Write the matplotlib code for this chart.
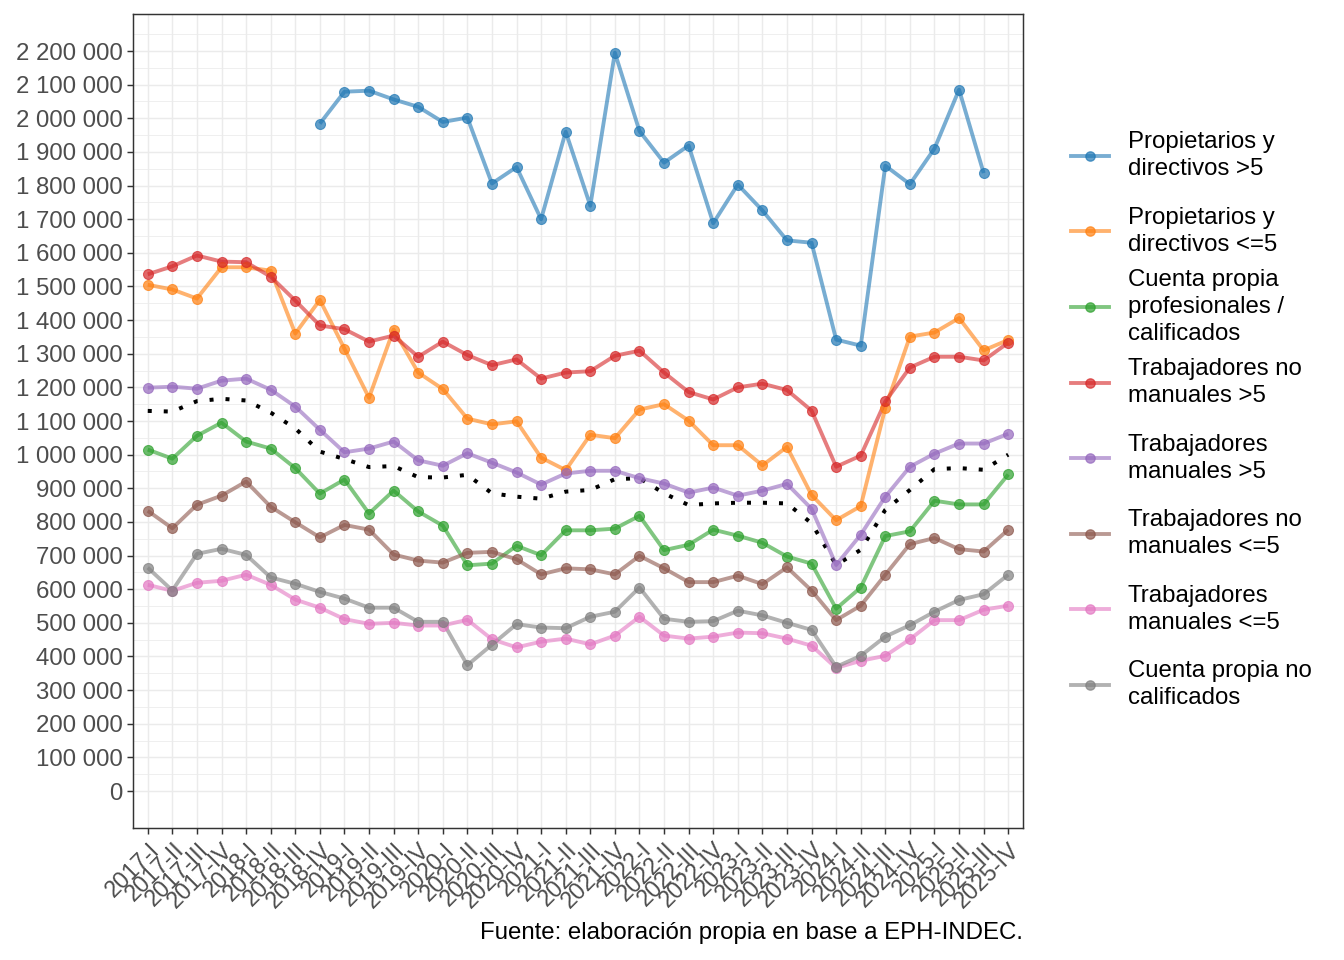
import numpy as np
import matplotlib
matplotlib.use("Agg")
import matplotlib.pyplot as plt
from matplotlib.lines import Line2D

plt.rcParams['font.family'] = ['Liberation Sans', 'DejaVu Sans']

# trimestres
periodos = [f"{a}-{t}" for a in range(2017, 2026) for t in ["I", "II", "III", "IV"]]

nan = np.nan
prop_gr = [nan, nan, nan, nan, nan, nan, nan, 1984000, 2079000, 2082000, 2056000, 2034000,
           1989000, 2002000, 1806000, 1855000, 1700000, 1960000, 1740000, 2195000,
           1962000, 1868000, 1919000, 1688000, 1803000, 1726000, 1637000, 1630000,
           1342000, 1324000, 1859000, 1804000, 1910000, 2085000, 1837000, nan]
prop_ch = [1505000, 1491000, 1464000, 1557000, 1557000, 1547000, 1360000, 1460000,
           1315000, 1169000, 1372000, 1244000, 1195000, 1107000, 1090000, 1099000,
           991000, 954000, 1059000, 1049000, 1134000, 1150000, 1101000, 1028000,
           1028000, 968000, 1023000, 880000, 805000, 847000, 1139000, 1351000,
           1363000, 1406000, 1310000, 1341000]
cp_prof = [1015000, 988000, 1056000, 1095000, 1039000, 1018000, 960000, 884000,
           926000, 825000, 893000, 831000, 789000, 671000, 676000, 729000,
           701000, 775000, 775000, 780000, 818000, 716000, 732000, 777000,
           759000, 738000, 697000, 676000, 542000, 605000, 758000, 772000,
           863000, 852000, 852000, 941000]
nm_gr = [1536000, 1560000, 1592000, 1574000, 1572000, 1529000, 1458000, 1384000,
         1373000, 1336000, 1354000, 1291000, 1336000, 1296000, 1266000, 1283000,
         1226000, 1244000, 1248000, 1294000, 1309000, 1244000, 1186000, 1164000,
         1200000, 1211000, 1192000, 1131000, 964000, 997000, 1158000, 1259000,
         1291000, 1291000, 1280000, 1333000]
man_gr = [1199000, 1202000, 1196000, 1220000, 1226000, 1193000, 1143000, 1074000,
          1007000, 1018000, 1039000, 983000, 967000, 1004000, 976000, 947000,
          911000, 944000, 952000, 952000, 930000, 914000, 887000, 902000,
          878000, 893000, 913000, 839000, 672000, 762000, 875000, 964000,
          1003000, 1033000, 1033000, 1062000]
nm_ch = [833000, 781000, 851000, 878000, 920000, 845000, 799000, 754000,
         791000, 777000, 703000, 685000, 679000, 708000, 711000, 689000,
         644000, 662000, 659000, 644000, 699000, 662000, 621000, 621000,
         640000, 615000, 665000, 596000, 508000, 551000, 643000, 734000,
         752000, 719000, 712000, 777000]
man_ch = [613000, 595000, 619000, 625000, 643000, 613000, 569000, 545000,
          511000, 497000, 500000, 492000, 492000, 509000, 451000, 427000,
          444000, 453000, 436000, 462000, 518000, 462000, 453000, 459000,
          471000, 469000, 453000, 432000, 366000, 387000, 402000, 451000,
          508000, 508000, 539000, 551000]
cp_nocal = [664000, 596000, 705000, 720000, 702000, 635000, 616000, 592000,
            572000, 545000, 545000, 503000, 503000, 374000, 435000, 496000,
            486000, 484000, 518000, 533000, 605000, 512000, 503000, 505000,
            536000, 522000, 500000, 479000, 369000, 402000, 459000, 493000,
            533000, 568000, 585000, 643000]
promedio = [1130000, 1128000, 1159000, 1166000, 1161000, 1125000, 1078000, 1009000,
            987000, 963000, 966000, 933000, 932000, 940000, 885000, 875000,
            869000, 890000, 895000, 927000, 930000, 885000, 850000, 855000,
            857000, 857000, 855000, 796000, 672000, 717000, 836000, 895000,
            957000, 960000, 955000, 1000000]

etiquetas = ["Propietarios y\ndirectivos >5", "Propietarios y\ndirectivos <=5",
             "Cuenta propia\nprofesionales /\ncalificados", "Trabajadores no\nmanuales >5",
             "Trabajadores\nmanuales >5", "Trabajadores no\nmanuales <=5",
             "Trabajadores\nmanuales <=5", "Cuenta propia no\ncalificados"]
series = [prop_gr, prop_ch, cp_prof, nm_gr, man_gr, nm_ch, man_ch, cp_nocal]
colores = ["#1f77b4", "#ff7f0e", "#2ca02c", "#d62728",
           "#9467bd", "#8c564b", "#e377c2", "#7f7f7f"]

W, H = 1344, 960
fig = plt.figure(figsize=(W / 96, H / 96), dpi=96)
ax = fig.add_axes([133 / W, 1 - 828 / H, (1023 - 133) / W, (828 - 14) / H])

x = np.arange(len(periodos))
gris = "#4d4d4d"

# linea punteada (promedio)
ax.plot(x, promedio, color="black", lw=3, linestyle=(0, (1, 3)), zorder=2)

for y, c in zip(series, colores):
    ax.plot(x, y, color=c, lw=2.9, alpha=0.6, zorder=3, solid_capstyle="butt")
    ax.plot(x, y, linestyle="none", marker="o", ms=7.5, color=c, alpha=0.7,
            markeredgewidth=0.8, markeredgecolor=c, zorder=4)

ax.set_xlim(-0.6, len(periodos) - 0.4)
ax.set_ylim(-110000, 2310000)
yt = np.arange(0, 2200001, 100000)
ax.set_yticks(yt)
ax.set_yticklabels([f"{v:,}".replace(",", " ") for v in yt])
ax.set_yticks(np.arange(50000, 2300000, 100000), minor=True)
ax.set_xticks(x)
ax.set_xticklabels(periodos, rotation=45, ha="right", va="top", rotation_mode="anchor")

ax.grid(True, which="major", color="#ebebeb", lw=1.1)
ax.grid(True, which="minor", axis="y", color="#ebebeb", lw=0.6)
ax.set_axisbelow(True)
for s in ax.spines.values():
    s.set_color("#333333")
    s.set_linewidth(1.1)
ax.tick_params(axis="both", which="major", length=4.5, width=1.1, color="#333333",
               labelsize=18, labelcolor=gris, pad=3)
ax.tick_params(axis="x", which="major", labelsize=17.5)
ax.tick_params(axis="y", which="minor", length=0)

# leyenda
for i, (lab, c) in enumerate(zip(etiquetas, colores)):
    yc = 1 - (155.7 + i * 75.6) / H
    fig.add_artist(Line2D([1071 / W, 1109 / W], [yc, yc], color=c, lw=2.9, alpha=0.6,
                          transform=fig.transFigure))
    fig.add_artist(Line2D([1090 / W], [yc], marker="o", ms=7, color=c, alpha=0.7,
                          transform=fig.transFigure))
    fig.text(1128 / W, yc, lab, fontsize=18, va="center", ha="left", linespacing=1.3)

fig.text(1023 / W, 1 - 933 / H, "Fuente: elaboración propia en base a EPH-INDEC.",
         fontsize=18, ha="right", va="center")

fig.savefig("out.png", dpi=96)
